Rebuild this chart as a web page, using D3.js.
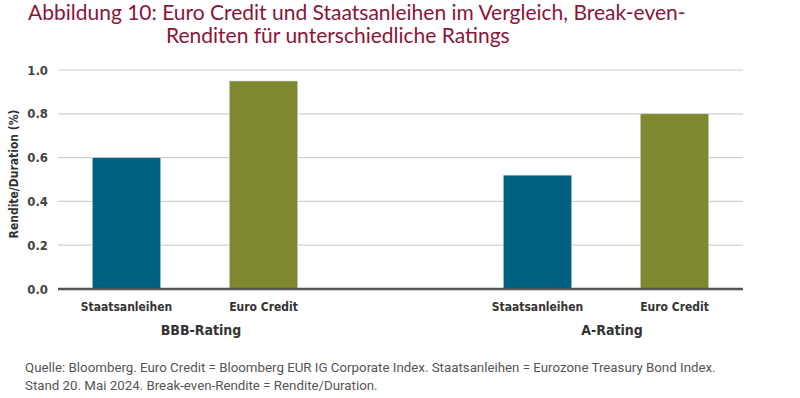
<!DOCTYPE html>
<html>
<head>
<meta charset="utf-8">
<script src="https://cdn.jsdelivr.net/npm/d3@7"></script>
<style>
  body { margin: 0; background: #fff; }
  svg { display: block; }
  .cond { font-family: "DejaVu Sans Condensed", "DejaVu Sans", sans-serif; font-stretch: condensed; font-weight: bold; }
</style>
</head>
<body>
<script>
(function() {
  'use strict';

  // data
  const groups = ['BBB-Rating', 'A-Rating'];
  const series = ['Staatsanleihen', 'Euro Credit'];
  const bbbValues = [0.60, 0.95];
  const aValues = [0.52, 0.80];
  const yTicks = [0.0, 0.2, 0.4, 0.6, 0.8, 1.0];
  const colors = ['#00607f', '#7f882f'];

  const titleLines = [
    'Abbildung 10: Euro Credit und Staatsanleihen im Vergleich, Break-even-',
    'Renditen für unterschiedliche Ratings'
  ];
  const sourceLines = [
    'Quelle: Bloomberg. Euro Credit = Bloomberg EUR IG Corporate Index. Staatsanleihen = Eurozone Treasury Bond Index.',
    'Stand 20. Mai 2024. Break-even-Rendite = Rendite/Duration.'
  ];

  const w = 800;
  const h = 398;
  const margin = {left: 58, right: 57, top: 70, bottom: 109};

  const dataset = [];
  [bbbValues, aValues].forEach((vals, g) => {
    vals.forEach((v, i) => {
      dataset.push({group: groups[g], name: series[i], value: v, key: groups[g] + '|' + series[i], color: colors[i]});
    });
  });

  // five slots, the middle one is left empty between the two groups
  const slots = [dataset[0].key, dataset[1].key, 'gap', dataset[2].key, dataset[3].key];

  const xScale =
    d3.scaleBand()
      .domain(slots)
      .range([margin.left, w - margin.right])
      .paddingInner(0.5)
      .paddingOuter(0.25);

  const yScale =
    d3.scaleLinear()
      .domain([0, 1])
      .range([h - margin.bottom, margin.top]);

  const svg =
    d3.select('body')
      .append('svg')
      .attr('width', w)
      .attr('height', h);

  // title
  svg.append('g')
    .selectAll('text')
    .data(titleLines)
    .enter()
    .append('text')
    .attr('x', (d, i) => i === 0 ? 28 : 166)
    .attr('y', (d, i) => 20 + i * 23)
    .attr('fill', '#8a1538')
    .style('font-family', 'Lato, "Open Sans", sans-serif')
    .style('font-size', '21px')
    .text(d => d);

  // grid lines
  svg.append('g')
    .selectAll('line')
    .data(yTicks.filter(d => d > 0))
    .enter()
    .append('line')
    .attr('x1', margin.left)
    .attr('x2', w - margin.right)
    .attr('y1', d => yScale(d))
    .attr('y2', d => yScale(d))
    .attr('stroke', '#d0d0d0')
    .attr('stroke-width', 1.2);

  // y axis labels
  const yAxis = d3.axisLeft(yScale)
    .tickValues(yTicks)
    .tickFormat(d3.format('.1f'))
    .tickSize(0)
    .tickPadding(10);
  svg.append('g')
    .attr('id', 'y-axis')
    .attr('transform', 'translate(' + margin.left + ',0)')
    .call(yAxis)
    .call(g => g.select('.domain').remove())
    .selectAll('text')
    .attr('class', 'cond')
    .attr('fill', '#444')
    .style('font-size', '13px');

  // bars
  svg.selectAll('rect.bar')
    .data(dataset)
    .enter()
    .append('rect')
    .attr('class', 'bar')
    .attr('x', d => xScale(d.key))
    .attr('y', d => yScale(d.value))
    .attr('width', xScale.bandwidth())
    .attr('height', d => yScale(0) - yScale(d.value))
    .attr('fill', d => d.color)
    .attr('stroke', '#d8e0e4')
    .attr('stroke-width', 0.6);

  // baseline
  svg.append('line')
    .attr('x1', margin.left)
    .attr('x2', w - margin.right)
    .attr('y1', yScale(0))
    .attr('y2', yScale(0))
    .attr('stroke', '#555')
    .attr('stroke-width', 2.5);

  // x axis labels
  const xAxis = d3.axisBottom(xScale)
    .tickValues(dataset.map(d => d.key))
    .tickFormat(k => k.split('|')[1])
    .tickSize(0)
    .tickPadding(13);
  svg.append('g')
    .attr('id', 'x-axis')
    .attr('transform', 'translate(0,' + yScale(0) + ')')
    .call(xAxis)
    .call(g => g.select('.domain').remove())
    .selectAll('text')
    .attr('class', 'cond')
    .attr('fill', '#333')
    .style('font-size', '12px');

  // group labels
  svg.append('g')
    .selectAll('text')
    .data(groups)
    .enter()
    .append('text')
    .attr('class', 'cond')
    .attr('x', g => {
      const keys = dataset.filter(d => d.group === g).map(d => d.key);
      return (xScale(keys[0]) + xScale(keys[1]) + xScale.bandwidth()) / 2 + 6;
    })
    .attr('y', 335)
    .attr('text-anchor', 'middle')
    .attr('fill', '#333')
    .style('font-size', '14px')
    .text(g => g);

  // y axis title
  svg.append('text')
    .attr('class', 'cond')
    .attr('transform', 'translate(18,' + 174 + ') rotate(-90)')
    .attr('text-anchor', 'middle')
    .attr('fill', '#333')
    .style('font-size', '12px')
    .text('Rendite/Duration (%)');

  // source note
  svg.append('g')
    .selectAll('text')
    .data(sourceLines)
    .enter()
    .append('text')
    .attr('x', 25)
    .attr('y', (d, i) => 372 + i * 18)
    .attr('fill', '#555')
    .style('font-family', 'Roboto, sans-serif')
    .style('font-size', '13.3px')
    .text(d => d);
}());
</script>
</body>
</html>
